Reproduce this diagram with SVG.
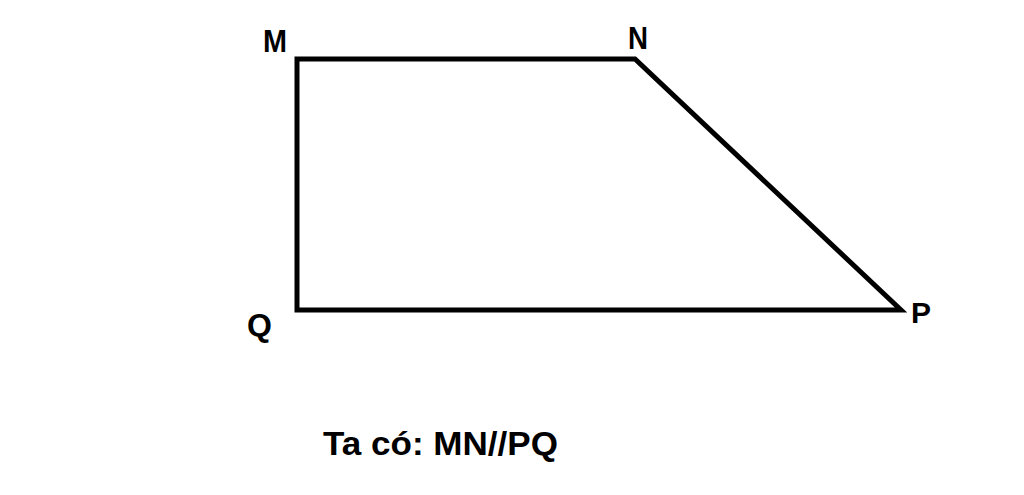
<svg xmlns="http://www.w3.org/2000/svg" width="1024" height="495" viewBox="0 0 1024 495">
<style>
.lbl{font-family:"Liberation Sans",Arial,sans-serif;font-weight:bold;fill:#000}
.shape{fill:none;stroke:#000;stroke-width:5;stroke-linejoin:miter}
</style>
<rect x="0" y="0" width="1024" height="495" fill="#fff"/>
<g id="connectors">
<polygon class="shape" points="297,59 635,59 901,310 297,310"/>
</g>
<g id="node-M"><text class="lbl" x="263" y="52" font-size="32" textLength="24" lengthAdjust="spacingAndGlyphs">M</text></g>
<g id="node-N"><text class="lbl" x="628" y="49" font-size="32" textLength="20" lengthAdjust="spacingAndGlyphs">N</text></g>
<g id="node-Q"><text class="lbl" x="247" y="336" font-size="32">Q</text></g>
<g id="node-P"><text class="lbl" x="911" y="323" font-size="30">P</text></g>
<g id="caption"><text class="lbl" x="323" y="455" font-size="34" textLength="235" lengthAdjust="spacingAndGlyphs">Ta có: MN//PQ</text></g>
</svg>
